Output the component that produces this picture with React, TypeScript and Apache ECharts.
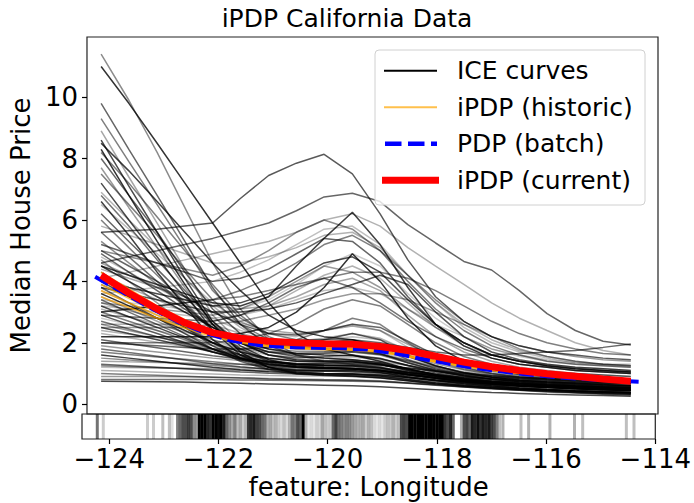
import React, { useEffect, useRef } from 'react';
import * as echarts from 'echarts';

const FONT = 'DejaVu Sans';

// Longitude grid of the ICE curves
const gridLon = [-124.24, -123.73, -123.21, -122.70, -122.19, -121.68, -121.16, -120.65, -120.14, -119.62,
  -119.11, -118.60, -118.09, -117.57, -117.06, -116.55, -116.04, -115.52, -115.01, -114.50];

// ICE curves (one row per house), values in units of 100k$
const iceCurves: number[][] = [
  [11.4,9.9,8.2,6.4,4.6,3.1,2.1,1.6,1.4,1.3,1.2,1.0,0.85,0.72,0.62,0.55,0.5,0.45,0.42,0.4],
  [11.0,9.8,8.5,7.2,5.9,4.6,3.3,2.3,1.8,1.6,1.4,1.15,0.95,0.8,0.7,0.6,0.55,0.5,0.47,0.45],
  [9.8,8.3,6.8,5.3,3.8,2.6,1.9,1.6,1.5,1.45,1.35,1.15,0.95,0.8,0.7,0.62,0.56,0.52,0.48,0.45],
  [9.3,7.9,6.5,5.1,3.7,2.8,2.3,2.1,2.1,2.1,1.85,1.45,1.15,0.95,0.82,0.72,0.66,0.62,0.58,0.55],
  [8.9,7.4,5.9,4.4,2.9,2.0,1.6,1.45,1.4,1.4,1.3,1.1,0.92,0.8,0.7,0.62,0.57,0.53,0.5,0.47],
  [8.6,7.1,5.6,4.1,2.7,1.9,1.45,1.25,1.2,1.15,1.05,0.9,0.78,0.68,0.6,0.53,0.48,0.44,0.41,0.38],
  [8.5,7.6,6.6,5.6,4.6,3.7,2.9,2.4,2.2,2.1,1.9,1.55,1.25,1.02,0.88,0.78,0.72,0.68,0.64,0.6],
  [8.3,6.8,5.3,3.9,2.6,1.7,1.2,1.0,0.95,0.92,0.86,0.76,0.66,0.58,0.52,0.46,0.42,0.38,0.35,0.32],
  [8.2,7.2,6.1,5.0,3.9,2.9,2.2,1.9,1.8,1.8,1.65,1.35,1.1,0.92,0.8,0.72,0.66,0.62,0.58,0.55],
  [8.0,6.8,5.6,4.3,3.1,2.3,1.9,1.9,2.1,2.3,2.1,1.6,1.25,1.02,0.88,0.78,0.72,0.68,0.64,0.6],
  [7.7,6.4,5.1,3.8,2.6,1.8,1.4,1.3,1.35,1.4,1.3,1.1,0.92,0.8,0.7,0.63,0.58,0.54,0.5,0.47],
  [7.5,6.5,5.5,4.4,3.4,2.6,2.1,2.1,2.4,2.8,2.6,2.0,1.5,1.2,1.0,0.88,0.82,0.77,0.73,0.7],
  [7.2,6.0,4.8,3.6,2.4,1.6,1.2,1.05,1.0,0.98,0.92,0.8,0.7,0.62,0.55,0.49,0.45,0.41,0.38,0.35],
  [6.9,6.0,5.1,4.1,3.2,2.5,2.0,1.8,1.8,1.8,1.65,1.35,1.1,0.92,0.8,0.72,0.67,0.63,0.6,0.57],
  [6.8,5.8,4.7,3.7,2.7,2.0,1.6,1.5,1.55,1.6,1.5,1.25,1.02,0.86,0.76,0.68,0.63,0.59,0.56,0.53],
  [6.6,5.5,4.3,3.2,2.1,1.5,1.2,1.1,1.1,1.1,1.02,0.88,0.76,0.66,0.58,0.52,0.47,0.43,0.4,0.37],
  [6.5,5.7,4.9,4.1,3.3,2.7,2.3,2.2,2.4,2.6,2.4,1.85,1.4,1.12,0.95,0.85,0.79,0.74,0.7,0.67],
  [6.2,5.3,4.4,3.5,2.6,2.0,1.6,1.45,1.42,1.4,1.3,1.1,0.92,0.79,0.69,0.62,0.57,0.53,0.5,0.47],
  [5.6,5.65,5.7,5.8,5.9,6.7,7.45,7.85,8.14,7.5,6.2,4.7,3.5,2.7,2.2,1.9,1.7,1.6,1.5,1.45],
  [4.6,4.8,5.0,5.2,5.4,5.65,5.9,6.3,6.75,6.87,6.6,5.85,5.25,4.65,4.37,3.7,2.95,2.4,2.05,1.93],
  [4.1,4.3,4.5,4.7,4.9,5.1,5.3,5.6,6.0,6.2,5.8,5.1,4.5,3.9,3.3,2.8,2.4,2.0,1.75,1.6],
  [4.5,4.2,3.9,3.6,3.3,3.2,3.5,4.5,5.4,6.25,5.2,3.8,2.6,1.9,1.5,1.3,1.2,1.1,1.05,1.0],
  [5.0,4.8,4.6,4.4,4.2,4.5,5.0,5.6,6.0,5.7,5.0,4.2,3.4,2.7,2.2,1.8,1.55,1.4,1.3,1.25],
  [3.6,3.7,3.8,3.9,4.0,4.3,4.7,5.2,5.7,5.8,5.2,4.2,3.3,2.5,2.0,1.7,1.5,1.35,1.3,1.25],
  [5.2,4.9,4.6,4.3,4.0,4.1,4.4,4.9,5.4,5.3,4.6,3.5,2.6,2.0,1.6,1.4,1.25,1.15,1.1,1.05],
  [3.0,3.1,3.2,3.3,3.4,3.7,4.1,4.6,5.2,5.5,5.0,4.0,3.1,2.4,1.9,1.6,1.4,1.3,1.25,1.2],
  [4.0,3.8,3.6,3.4,3.2,3.3,3.6,4.1,4.6,4.8,4.3,3.4,2.6,2.0,1.6,1.4,1.25,1.15,1.1,1.05],
  [3.3,3.2,3.1,3.0,2.9,3.1,3.5,4.0,4.5,4.3,3.8,3.1,2.5,2.0,1.6,1.4,1.25,1.15,1.1,1.05],
  [2.6,2.6,2.6,2.6,2.7,2.9,3.2,3.7,4.2,4.5,4.1,3.3,2.5,1.9,1.6,1.4,1.3,1.2,1.15,1.1],
  [3.8,3.6,3.4,3.2,3.0,3.0,3.1,3.3,3.6,3.9,4.2,3.9,3.0,2.2,1.7,1.45,1.3,1.2,1.15,1.1],
  [2.9,2.85,2.8,2.75,2.7,2.9,3.3,3.8,4.1,3.8,3.3,2.7,2.2,1.8,1.5,1.3,1.2,1.1,1.05,1.0],
  [4.4,4.1,3.8,3.5,3.2,3.1,3.2,3.5,3.9,4.1,3.7,2.9,2.2,1.7,1.4,1.2,1.1,1.0,0.95,0.9],
  [3.4,3.3,3.2,3.1,3.0,3.1,3.4,3.9,4.5,4.9,4.5,3.6,2.8,2.2,1.8,1.55,1.4,1.3,1.25,1.2],
  [2.2,2.2,2.2,2.2,2.2,2.3,2.5,3.0,3.8,4.9,4.0,2.8,1.9,1.4,1.15,1.0,0.95,0.9,0.85,0.8],
  [2.0,2.0,2.0,2.0,2.0,2.1,2.3,2.6,3.1,3.4,3.2,2.6,2.0,1.55,1.3,1.15,1.05,1.0,0.95,0.9],
  [5.8,5.5,5.2,4.9,4.6,4.6,4.8,5.1,5.5,5.6,5.1,4.2,3.3,2.6,2.1,1.75,1.55,1.4,1.3,1.25],
  [3.0,3.1,3.2,3.3,3.4,3.5,3.7,3.9,4.1,4.3,4.3,4.1,3.7,3.2,2.7,2.3,2.0,1.8,1.65,1.6],
  [2.5,2.5,2.5,2.5,2.6,2.7,2.9,3.1,3.4,3.6,3.6,3.4,3.0,2.6,2.2,1.9,1.7,1.55,1.45,1.4],
  [3.2,3.1,3.0,2.9,2.8,2.9,3.1,3.4,3.7,3.8,3.6,3.1,2.6,2.2,1.8,1.6,1.45,1.35,1.3,1.3],
  [2.0,1.95,1.9,1.85,1.8,1.8,1.85,1.9,2.0,2.1,2.0,1.85,1.7,1.6,1.6,1.65,1.7,1.75,1.85,1.96],
  [4.9,4.3,3.7,3.1,2.5,2.0,1.7,1.55,1.5,1.45,1.35,1.15,0.97,0.84,0.74,0.67,0.62,0.58,0.55,0.52],
  [4.7,4.0,3.3,2.6,2.0,1.5,1.25,1.12,1.08,1.05,0.98,0.86,0.75,0.66,0.59,0.53,0.49,0.46,0.43,0.41],
  [4.5,4.0,3.5,3.0,2.5,2.1,1.8,1.65,1.6,1.58,1.48,1.27,1.07,0.92,0.82,0.74,0.69,0.65,0.62,0.6],
  [4.3,3.7,3.1,2.5,1.9,1.45,1.15,1.02,0.98,0.95,0.9,0.8,0.7,0.62,0.55,0.5,0.46,0.42,0.39,0.36],
  [4.2,3.8,3.4,3.0,2.6,2.3,2.1,2.05,2.15,2.3,2.15,1.75,1.4,1.15,1.0,0.9,0.84,0.8,0.77,0.75],
  [4.0,3.5,3.0,2.5,2.0,1.6,1.35,1.22,1.18,1.15,1.08,0.95,0.83,0.73,0.65,0.59,0.55,0.51,0.48,0.45],
  [3.9,3.5,3.1,2.7,2.3,2.0,1.8,1.72,1.72,1.74,1.63,1.4,1.18,1.0,0.88,0.8,0.75,0.71,0.68,0.66],
  [3.8,3.3,2.8,2.3,1.8,1.4,1.12,0.98,0.93,0.9,0.85,0.76,0.67,0.6,0.54,0.49,0.45,0.42,0.39,0.37],
  [3.7,3.3,2.9,2.5,2.1,1.8,1.6,1.52,1.52,1.53,1.45,1.26,1.07,0.93,0.82,0.75,0.7,0.66,0.63,0.61],
  [3.6,3.2,2.8,2.4,2.0,1.7,1.5,1.4,1.38,1.37,1.3,1.13,0.97,0.84,0.75,0.68,0.63,0.59,0.56,0.54],
  [3.5,3.1,2.7,2.3,1.9,1.6,1.4,1.3,1.27,1.26,1.2,1.05,0.91,0.8,0.71,0.65,0.6,0.56,0.53,0.51],
  [3.4,3.0,2.6,2.2,1.8,1.5,1.3,1.2,1.17,1.15,1.1,0.97,0.85,0.75,0.67,0.61,0.57,0.53,0.5,0.48],
  [3.3,3.05,2.8,2.55,2.3,2.05,1.88,1.82,1.87,1.95,1.85,1.58,1.32,1.12,0.98,0.89,0.83,0.79,0.76,0.74],
  [3.2,2.85,2.5,2.15,1.8,1.5,1.3,1.2,1.18,1.16,1.1,0.97,0.85,0.75,0.67,0.61,0.57,0.53,0.5,0.48],
  [3.1,2.85,2.6,2.35,2.1,1.88,1.72,1.66,1.68,1.72,1.64,1.42,1.2,1.03,0.91,0.83,0.78,0.74,0.71,0.69],
  [3.0,2.7,2.4,2.1,1.8,1.55,1.38,1.3,1.28,1.27,1.2,1.05,0.91,0.8,0.71,0.65,0.6,0.57,0.54,0.52],
  [2.9,2.6,2.3,2.0,1.7,1.45,1.28,1.2,1.18,1.16,1.1,0.97,0.85,0.75,0.67,0.61,0.56,0.52,0.49,0.47],
  [2.8,2.6,2.4,2.2,2.0,1.82,1.7,1.66,1.7,1.76,1.68,1.46,1.24,1.06,0.94,0.86,0.81,0.77,0.74,0.72],
  [2.7,2.45,2.2,1.95,1.7,1.48,1.32,1.22,1.18,1.15,1.09,0.97,0.86,0.76,0.68,0.62,0.58,0.54,0.51,0.49],
  [2.6,2.4,2.2,2.0,1.8,1.62,1.48,1.4,1.38,1.38,1.31,1.15,0.99,0.86,0.77,0.7,0.65,0.61,0.58,0.56],
  [2.5,2.3,2.1,1.9,1.7,1.52,1.38,1.3,1.26,1.24,1.18,1.04,0.91,0.8,0.72,0.66,0.61,0.57,0.54,0.52],
  [2.4,2.28,2.16,2.04,1.92,1.8,1.7,1.65,1.66,1.7,1.62,1.42,1.22,1.05,0.93,0.85,0.8,0.76,0.73,0.71],
  [4.6,4.2,3.8,3.4,3.0,2.65,2.4,2.3,2.4,2.55,2.4,1.95,1.55,1.25,1.07,0.95,0.88,0.83,0.79,0.76],
  [5.3,4.6,3.9,3.2,2.5,2.0,1.7,1.6,1.65,1.7,1.6,1.35,1.12,0.95,0.84,0.76,0.7,0.66,0.63,0.6],
  [5.6,4.8,4.0,3.2,2.4,1.8,1.45,1.3,1.26,1.24,1.17,1.02,0.88,0.77,0.69,0.62,0.57,0.53,0.5,0.47],
  [6.0,5.1,4.2,3.3,2.4,1.75,1.4,1.25,1.22,1.2,1.13,0.99,0.86,0.75,0.67,0.6,0.55,0.51,0.48,0.45],
  [5.0,4.5,4.0,3.5,3.0,2.6,2.3,2.25,2.4,2.6,2.5,2.05,1.6,1.3,1.1,0.97,0.9,0.85,0.81,0.78],
  [4.8,4.3,3.8,3.3,2.8,2.4,2.15,2.05,2.1,2.2,2.1,1.75,1.42,1.18,1.02,0.91,0.85,0.8,0.76,0.73],
  [0.75,0.74,0.73,0.72,0.7,0.68,0.66,0.64,0.62,0.6,0.57,0.52,0.47,0.42,0.38,0.35,0.32,0.3,0.28,0.26],
  [1.0,0.97,0.94,0.91,0.88,0.85,0.82,0.8,0.79,0.78,0.75,0.69,0.63,0.57,0.52,0.48,0.45,0.42,0.4,0.38],
  [1.1,1.07,1.04,1.01,0.98,0.95,0.93,0.92,0.92,0.92,0.89,0.83,0.76,0.69,0.63,0.58,0.54,0.51,0.48,0.46],
  [1.3,1.25,1.2,1.15,1.1,1.05,1.01,0.98,0.97,0.97,0.94,0.87,0.79,0.72,0.65,0.6,0.56,0.52,0.49,0.46],
  [1.5,1.44,1.38,1.32,1.26,1.2,1.15,1.12,1.12,1.13,1.09,1.0,0.91,0.82,0.75,0.69,0.64,0.6,0.57,0.54],
  [1.6,1.5,1.4,1.3,1.2,1.12,1.06,1.02,1.0,0.99,0.95,0.87,0.79,0.71,0.64,0.58,0.54,0.5,0.47,0.44],
  [1.8,1.68,1.56,1.44,1.32,1.22,1.14,1.09,1.07,1.06,1.02,0.94,0.85,0.77,0.7,0.64,0.59,0.55,0.52,0.49],
  [1.2,1.19,1.18,1.17,1.16,1.15,1.14,1.14,1.15,1.16,1.14,1.08,1.01,0.94,0.88,0.83,0.79,0.76,0.74,0.72],
  [1.4,1.38,1.36,1.34,1.32,1.3,1.28,1.27,1.27,1.28,1.25,1.17,1.08,1.0,0.93,0.88,0.84,0.81,0.79,0.77],
  [0.9,0.9,0.9,0.89,0.88,0.86,0.84,0.82,0.8,0.79,0.76,0.7,0.63,0.56,0.5,0.45,0.41,0.38,0.35,0.33],
  [1.9,1.8,1.7,1.6,1.5,1.42,1.36,1.32,1.31,1.31,1.27,1.18,1.09,1.0,0.93,0.88,0.84,0.81,0.79,0.77],
  [2.1,1.97,1.84,1.71,1.58,1.47,1.38,1.33,1.32,1.33,1.28,1.18,1.07,0.97,0.89,0.83,0.78,0.74,0.71,0.68],
  [2.3,2.16,2.02,1.88,1.74,1.61,1.5,1.44,1.43,1.44,1.38,1.26,1.13,1.02,0.93,0.86,0.81,0.77,0.74,0.71],
  [1.7,1.62,1.54,1.46,1.38,1.3,1.23,1.18,1.16,1.15,1.11,1.03,0.95,0.88,0.82,0.77,0.73,0.7,0.68,0.66],
  [0.8,0.8,0.8,0.8,0.8,0.79,0.78,0.77,0.76,0.75,0.73,0.68,0.62,0.56,0.5,0.45,0.4,0.36,0.32,0.29],
  [1.25,1.22,1.19,1.16,1.13,1.1,1.08,1.07,1.08,1.1,1.08,1.02,0.95,0.88,0.82,0.77,0.73,0.7,0.68,0.66],
];

const iceAlpha = [
  0.45,0.8,0.6,0.5,0.35,0.7,0.75,0.8,0.5,0.6,0.4,0.5,0.7,0.3,0.55,0.75,0.25,0.6,
  0.65,0.6,0.3,0.75,0.45,0.25,0.6,0.5,0.7,0.4,0.3,0.65,0.55,0.35,0.2,0.8,0.5,0.3,0.5,0.4,0.25,0.6,
  0.6,0.4,0.75,0.55,0.3,0.7,0.45,0.6,0.25,0.8,0.35,0.55,0.4,0.7,0.3,0.5,0.65,0.2,0.55,0.4,0.7,0.3,0.35,0.45,0.55,0.5,0.6,0.25,
  0.7,0.5,0.3,0.6,0.45,0.75,0.55,0.25,0.35,0.4,0.4,0.6,0.3,0.5,0.55,0.45,
];

// Historic iPDP estimates
const historicCurves: number[][] = [
  [4.3,3.75,3.2,2.75,2.4,2.15,2.0,1.9,1.85,1.82,1.76,1.6,1.42,1.27,1.13,1.02,0.94,0.87,0.82,0.78],
  [3.9,3.45,3.0,2.6,2.28,2.06,1.92,1.84,1.8,1.78,1.72,1.56,1.39,1.25,1.12,1.01,0.93,0.86,0.81,0.77],
  [3.5,3.15,2.8,2.48,2.2,2.0,1.88,1.81,1.78,1.76,1.7,1.55,1.38,1.24,1.11,1.0,0.92,0.86,0.81,0.77],
  [3.7,3.3,2.9,2.55,2.25,2.03,1.9,1.83,1.79,1.77,1.71,1.55,1.38,1.24,1.11,1.0,0.92,0.86,0.81,0.77],
];

// PDP computed on the whole batch
const pdpLon = [-124.35, -123.85, -123.35, -122.85, -122.35, -121.85, -121.35, -120.85, -120.35, -119.85, -119.35,
  -118.85, -118.35, -117.85, -117.35, -116.85, -116.35, -115.85, -115.35, -114.85, -114.31];
const pdpBatch = [4.15, 3.65, 3.15, 2.7, 2.33, 2.07, 1.93, 1.86, 1.84, 1.82, 1.78, 1.66, 1.48, 1.32, 1.18, 1.06, 0.96, 0.88, 0.82, 0.77, 0.73];

// Current iPDP
const ipdpCurrent = [4.2, 3.62, 3.1, 2.65, 2.33, 2.15, 2.05, 2.0, 1.97, 1.95, 1.88, 1.75, 1.56, 1.37, 1.22, 1.1, 0.99, 0.91, 0.82, 0.75];

// Rug of observed longitudes (position, darkness)
const rugLon = [
  -124.22,-124.11,-123.30,-123.19,-123.02,
  -122.90,-122.85,-122.75,-122.70,-122.65,-122.60,-122.55,-122.50,-122.45,-122.40,-122.35,-122.30,-122.25,-122.20,-122.15,
  -122.10,-122.05,-122.00,-121.95,-121.90,-121.85,-121.80,-121.75,-121.70,-121.65,-121.60,-121.55,-121.50,-121.45,-121.40,
  -121.35,-121.30,-121.25,-121.20,-121.15,-121.10,-121.05,-121.00,-120.95,-120.90,-120.85,-120.80,-120.75,-120.70,-120.65,
  -120.60,-120.55,-120.50,-120.45,-120.40,-120.35,-120.30,-120.25,-120.20,-120.15,-120.10,-120.05,-120.00,-119.95,-119.90,
  -119.85,-119.80,-119.75,-119.70,-119.65,-119.60,-119.55,-119.50,-119.45,-119.40,-119.35,-119.30,-119.25,-119.20,-119.15,
  -119.10,-119.05,-119.00,-118.95,-118.90,-118.85,-118.80,-118.75,-118.70,-118.65,-118.60,-118.55,-118.50,-118.45,-118.40,
  -118.35,-118.30,-118.25,-118.20,-118.15,-118.10,-118.05,-118.00,-117.95,-117.90,-117.85,-117.80,-117.75,-117.70,-117.55,
  -117.50,-117.45,-117.40,-117.35,-117.30,-117.25,-117.20,-117.15,-117.10,-117.05,-117.00,-116.95,-116.90,-116.85,
  -116.79,-116.46,-116.32,-115.93,-115.48,-115.33,-114.53,-114.39,
];
const rugShade = [
  0.55,0.2,0.2,0.2,0.25,
  0.25,0.12,0.5,0.6,0.7,0.7,0.75,0.7,0.45,0.4,1,1,1,0.85,0.8,
  1,1,0.95,1,0.9,0.6,0.45,0.35,0.5,0.25,0.35,0.2,0.3,0.8,0.85,
  0.9,0.75,0.7,0.6,0.55,0.3,0.35,0.25,0.3,0.2,0.15,0.25,0.15,0.3,0.55,
  0.5,0.7,0.6,1,0.3,0.1,0.15,0.1,0.2,0.15,0.35,0.25,0.2,0.2,0.6,
  0.75,0.55,0.5,0.45,0.5,0.45,0.4,0.35,0.3,0.3,0.35,0.2,0.3,0.25,0.15,
  0.1,0.15,0.1,0.2,0.25,0.2,0.3,0.2,0.25,0.7,0.75,0.7,1,1,1,
  1,1,1,1,1,1,1,1,1,1,0.8,0.7,0.85,0.6,0.3,
  0.7,0.75,0.6,0.9,0.85,0.95,0.8,0.9,0.85,0.9,0.75,0.7,0.5,0.25,
  0.3,0.25,0.3,0.3,0.3,0.25,0.25,0.25,
];

const yTicks = [0, 2, 4, 6, 8, 10];
const xTicks = [-124, -122, -120, -118, -116, -114];

const legendItems = ['ICE curves', 'iPDP (historic)', 'PDP (batch)', 'iPDP (current)'];

const minus = (v: number) => (v < 0 ? '\u2212' + Math.abs(v) : String(v));

function buildOption() {
  const series: any[] = [];
  iceCurves.forEach((ys, i) => {
    series.push({
      type: 'line', xAxisIndex: 0, yAxisIndex: 0, silent: true, symbol: 'none',
      data: gridLon.map((x, j) => [x, ys[j]]),
      lineStyle: { color: '#000000', width: 1.5, opacity: iceAlpha[i] },
    });
  });
  historicCurves.forEach((ys) => {
    series.push({
      type: 'line', xAxisIndex: 0, yAxisIndex: 0, silent: true, symbol: 'none',
      data: gridLon.map((x, j) => [x, ys[j]]),
      lineStyle: { color: '#FFA500', width: 1.8, opacity: 0.7 },
    });
  });
  series.push({
    type: 'line', xAxisIndex: 0, yAxisIndex: 0, silent: true, symbol: 'none',
    data: pdpLon.map((x, j) => [x, pdpBatch[j]]),
    lineStyle: { color: '#0000FF', width: 4, type: [15, 6] },
  });
  series.push({
    type: 'line', xAxisIndex: 0, yAxisIndex: 0, silent: true, symbol: 'none',
    data: gridLon.map((x, j) => [x, ipdpCurrent[j]]),
    lineStyle: { color: '#FF0000', width: 7 },
  });
  series.push({
    type: 'scatter', xAxisIndex: 1, yAxisIndex: 1, silent: true,
    symbol: 'rect', symbolSize: [3, 25],
    data: rugLon.map((x, i) => ({ value: [x, 0.5], itemStyle: { opacity: rugShade[i] } })),
    itemStyle: { color: '#000000' },
  });

  const lx1 = 384, lx2 = 437;
  const ly = [70.7, 107.2, 143.7, 180.2];
  const graphic: any[] = [
    {
      type: 'rect', z: 100, shape: { x: 375, y: 50, width: 270, height: 155, r: 4 },
      style: { fill: 'rgba(255,255,255,0.8)', stroke: '#d0d0d0', lineWidth: 1 },
    },
    { type: 'line', z: 101, shape: { x1: lx1, y1: ly[0], x2: lx2, y2: ly[0] }, style: { stroke: '#000', lineWidth: 2 } },
    { type: 'line', z: 101, shape: { x1: lx1, y1: ly[1], x2: lx2, y2: ly[1] }, style: { stroke: '#FFA500', lineWidth: 2, opacity: 0.7 } },
    { type: 'line', z: 101, shape: { x1: lx1 + 1, y1: ly[2], x2: lx2, y2: ly[2] }, style: { stroke: '#0000FF', lineWidth: 4.5, lineDash: [16.5, 6.5] } },
    { type: 'line', z: 101, shape: { x1: lx1 - 2, y1: ly[3], x2: lx2 + 2, y2: ly[3] }, style: { stroke: '#FF0000', lineWidth: 7 } },
  ];
  legendItems.forEach((t, i) => {
    graphic.push({
      type: 'text', z: 102, x: 457, y: ly[i],
      style: { text: t, fontSize: 25, fontFamily: FONT, fill: '#000', verticalAlign: 'middle', align: 'left' },
    });
  });

  return {
    animation: false,
    backgroundColor: '#ffffff',
    title: {
      text: 'iPDP California Data', left: 'center', top: 1,
      textStyle: { fontFamily: FONT, fontSize: 25, fontWeight: 'normal', color: '#000' },
    },
    grid: [
      { left: 82, top: 37, width: 576, height: 377, show: true, borderColor: '#222', borderWidth: 1.2, backgroundColor: 'transparent' },
      { left: 82, top: 414, width: 576, height: 25, show: true, borderColor: '#222', borderWidth: 1.2, backgroundColor: 'transparent' },
    ],
    xAxis: [
      {
        type: 'value', gridIndex: 0, min: -124.5, max: -114,
        axisLine: { show: false }, axisTick: { show: false }, axisLabel: { show: false }, splitLine: { show: false },
      },
      {
        type: 'value', gridIndex: 1, min: -124.5, max: -114,
        name: 'feature: Longitude', nameLocation: 'middle', nameGap: 35,
        nameTextStyle: { fontFamily: FONT, fontSize: 26, color: '#000' },
        axisLine: { show: false },
        axisTick: { show: true, inside: false, length: 5, customValues: xTicks, lineStyle: { color: '#000', width: 1.2 } },
        axisLabel: { customValues: xTicks, formatter: minus, fontFamily: FONT, fontSize: 26, color: '#000', margin: 7 },
        splitLine: { show: false },
      },
    ],
    yAxis: [
      {
        type: 'value', gridIndex: 0, min: -0.32, max: 11.96,
        name: 'Median House Price', nameLocation: 'middle', nameGap: 47,
        nameTextStyle: { fontFamily: FONT, fontSize: 26, color: '#000' },
        axisLine: { show: false },
        axisTick: { show: true, inside: false, length: 5, customValues: yTicks, lineStyle: { color: '#000', width: 1.2 } },
        axisLabel: { customValues: yTicks, formatter: minus, fontFamily: FONT, fontSize: 26, color: '#000', margin: 9 },
        splitLine: { show: false },
      },
      {
        type: 'value', gridIndex: 1, min: 0, max: 1,
        axisLine: { show: false }, axisTick: { show: false }, axisLabel: { show: false }, splitLine: { show: false },
      },
    ],
    graphic,
    series,
  };
}

export default function App() {
  const ref = useRef<HTMLDivElement>(null);
  useEffect(() => {
    if (!ref.current) return;
    const chart = echarts.init(ref.current, null, { renderer: 'svg' });
    chart.setOption(buildOption() as any);
    return () => chart.dispose();
  }, []);
  return (
    <div
      ref={ref}
      style={{ position: 'fixed', left: 0, top: 0, width: 694, height: 503, background: '#fff' }}
    />
  );
}
